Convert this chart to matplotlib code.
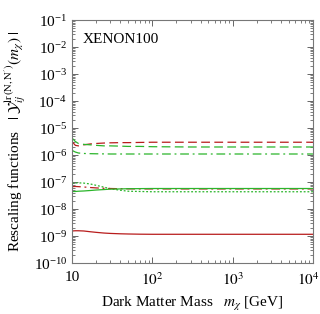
import numpy as np
import matplotlib.pyplot as plt
from matplotlib.ticker import LogLocator, NullFormatter
from matplotlib.transforms import ScaledTranslation

plt.rcParams['font.family'] = ['Liberation Serif', 'DejaVu Serif']
plt.rcParams['mathtext.fontset'] = 'stix'

# dark matter mass grid [GeV]
mass = [10, 11, 12, 14, 17, 20, 25, 30, 40, 50, 70, 100, 300, 1000, 3000, 10000]

red_dashed = [3.2e-6, 2.3e-6, 2.2e-6, 2.4e-6, 2.6e-6, 2.7e-6, 2.8e-6, 2.85e-6,
              2.9e-6, 2.9e-6, 2.95e-6, 3.0e-6, 3.0e-6, 3.0e-6, 3.0e-6, 3.0e-6]
green_dashed = [4.3e-6, 3.2e-6, 2.7e-6, 2.5e-6, 2.4e-6, 2.3e-6, 2.2e-6, 2.2e-6,
                2.15e-6, 2.1e-6, 2.1e-6, 2.05e-6, 2.0e-6, 2.0e-6, 2.0e-6, 2.0e-6]
green_dashdot = [1.5e-6, 1.3e-6, 1.2e-6, 1.15e-6, 1.13e-6, 1.12e-6, 1.11e-6, 1.1e-6,
                 1.1e-6, 1.1e-6, 1.1e-6, 1.1e-6, 1.1e-6, 1.1e-6, 1.1e-6, 1.1e-6]
green_dotted = [9.0e-8, 9.3e-8, 9.4e-8, 9.2e-8, 8.5e-8, 7.6e-8, 6.5e-8, 5.7e-8,
                5.0e-8, 4.6e-8, 4.5e-8, 4.4e-8, 4.4e-8, 4.4e-8, 4.4e-8, 4.4e-8]
red_dashdot = [6.8e-8, 6.9e-8, 6.8e-8, 6.6e-8, 6.3e-8, 6.1e-8, 5.9e-8, 5.8e-8,
               5.7e-8, 5.65e-8, 5.6e-8, 5.6e-8, 5.6e-8, 5.6e-8, 5.6e-8, 5.6e-8]
green_solid = [4.5e-8, 4.5e-8, 4.6e-8, 4.7e-8, 4.9e-8, 5.1e-8, 5.3e-8, 5.5e-8,
               5.6e-8, 5.7e-8, 5.75e-8, 5.8e-8, 5.8e-8, 5.8e-8, 5.8e-8, 5.8e-8]
red_solid = [1.55e-9, 1.58e-9, 1.58e-9, 1.55e-9, 1.45e-9, 1.38e-9, 1.3e-9, 1.26e-9,
             1.22e-9, 1.2e-9, 1.18e-9, 1.17e-9, 1.17e-9, 1.17e-9, 1.17e-9, 1.17e-9]

RED = '#b81c1c'
GREEN = '#2bb52b'

fig = plt.figure(figsize=(3.2, 3.14), dpi=100)
ax = fig.add_axes([0.225, 0.162, 0.753, 0.774])

lw = 0.9
ax.plot(mass, red_dashed, color=RED, lw=lw, dashes=(7, 3.5))
ax.plot(mass, green_dashed, color=GREEN, lw=lw, dashes=(7, 3.5))
ax.plot(mass, green_dashdot, color=GREEN, lw=lw, dashes=(7, 3, 1.5, 3))
ax.plot(mass, green_dotted, color=GREEN, lw=lw, dashes=(1.5, 1.5))
ax.plot(mass, red_dashdot, color=RED, lw=lw, dashes=(7, 3, 1.5, 3))
ax.plot(mass, green_solid, color=GREEN, lw=lw)
ax.plot(mass, red_solid, color=RED, lw=lw)

ax.set_xscale('log')
ax.set_yscale('log')
ax.set_xlim(10, 1e4)
ax.set_ylim(1e-10, 1e-1)

ax.yaxis.set_major_locator(LogLocator(base=10, numticks=20))
ax.yaxis.set_minor_locator(LogLocator(base=10, subs=np.arange(2, 10), numticks=20))
ax.yaxis.set_minor_formatter(NullFormatter())
ax.xaxis.set_minor_locator(LogLocator(base=10, subs=np.arange(2, 10), numticks=10))
ax.xaxis.set_minor_formatter(NullFormatter())
ax.set_xticks([10, 100, 1000, 10000])
ax.set_xticklabels(['10', r'$10^2$', r'$10^3$', r'$10^4$'])

ax.tick_params(which='both', direction='in', top=True, right=True, labelsize=11,
               color='#666666')
ax.tick_params(which='major', length=4, width=0.7)
ax.tick_params(which='minor', length=2.5, width=0.6)
ax.tick_params(axis='x', pad=6)
for s in ax.spines.values():
    s.set_color('#777777')
    s.set_linewidth(0.8)

# nudge the last x label inward so it stays inside the figure
last = ax.get_xticklabels()[-1]
last.set_transform(last.get_transform() + ScaledTranslation(-5 / 100, 0, fig.dpi_scale_trans))

ax.text(0.045, 0.947, 'XENON100', transform=ax.transAxes, fontsize=11,
        va='top', ha='left')

ax.set_xlabel(r'Dark Matter Mass   $m_\chi$ [GeV]', fontsize=11, labelpad=5)
ax.set_ylabel(r'Rescaling functions   $|\;\mathcal{Y}^{\rm lr\,(N,N^\prime)}_{ij}(m_\chi)\;|$',
              fontsize=11, labelpad=4)

fig.savefig('out.png', dpi=100)
